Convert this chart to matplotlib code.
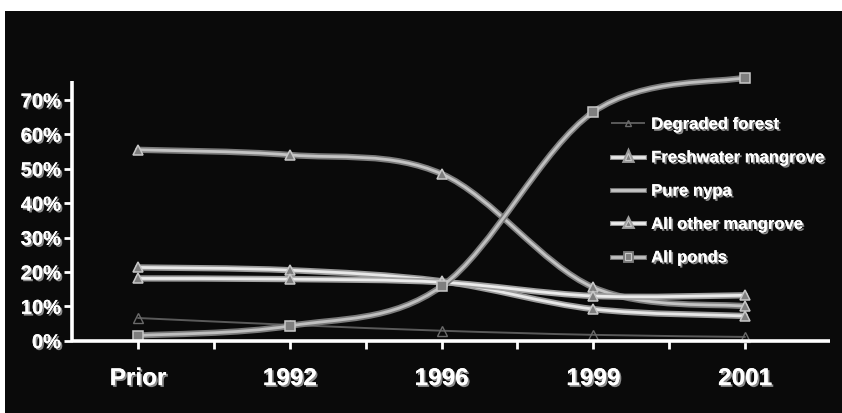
import matplotlib
matplotlib.use('Agg')
import matplotlib.pyplot as plt
import matplotlib.patheffects as pe
from matplotlib.path import Path
from matplotlib.patches import PathPatch, Rectangle
from matplotlib.lines import Line2D
from matplotlib.ticker import FixedLocator, PercentFormatter

plt.rcParams['font.family'] = ['Liberation Sans', 'DejaVu Sans']
plt.rcParams['font.weight'] = 'bold'

# Land cover share (% of area) per period
periods = ['Prior', '1992', '1996', '1999', '2001']
degraded_forest = [6.6, 4.6, 2.9, 1.7, 1.1]
freshwater_mangrove = [21.3, 20.5, 17.3, 9.2, 7.2]
pure_nypa = [55.5, 54.0, 48.5, 15.5, 10.0]
all_other_mangrove = [18.1, 17.9, 17.0, 13.0, 13.2]
all_ponds = [1.5, 4.3, 15.8, 66.5, 76.5]


def smooth_path(xs, ys):
    # Catmull-Rom style cubic Bezier through every point (like a "smoothed line")
    pts = list(zip(xs, ys))
    verts = [pts[0]]
    codes = [Path.MOVETO]
    n = len(pts)
    for i in range(n - 1):
        p0 = pts[max(i - 1, 0)]
        p1 = pts[i]
        p2 = pts[i + 1]
        p3 = pts[min(i + 2, n - 1)]
        c1 = (p1[0] + (p2[0] - p0[0]) / 6, p1[1] + (p2[1] - p0[1]) / 6)
        c2 = (p2[0] - (p3[0] - p1[0]) / 6, p2[1] - (p3[1] - p1[1]) / 6)
        verts += [c1, c2, p2]
        codes += [Path.CURVE4] * 3
    return Path(verts, codes)


shadow = [pe.withSimplePatchShadow(offset=(1.3, -1.3), shadow_rgbFace='#8a8a8a', alpha=1.0), pe.Normal()]

fig = plt.figure(figsize=(8.42, 4.14), dpi=100, facecolor='white')
fig.patches.append(Rectangle((5 / 842, 0), 1, 1 - 12 / 414, transform=fig.transFigure,
                             facecolor='#0a0a0a', edgecolor='none', zorder=-10))

ax = fig.add_axes([72 / 842, (414 - 341.7) / 414, (830 - 72) / 842, (341.7 - 82) / 414])
ax.set_facecolor('none')
ax.set_xlim(-0.435, 4.56)
ax.set_ylim(0, 75.5)

x = list(range(len(periods)))

# series: name, values, core colour, edge colour, core width, edge width, marker
series = [
    ('Degraded forest', degraded_forest, '#5a5a5a', None, 1.4, None, '^'),
    ('Freshwater mangrove', freshwater_mangrove, '#e8e8e8', '#9a9a9a', 2.0, 4.5, '^'),
    ('Pure nypa', pure_nypa, '#c4c4c4', '#7c7c7c', 2.0, 4.5, '^'),
    ('All other mangrove', all_other_mangrove, '#ececec', '#a0a0a0', 2.0, 4.5, '^'),
    ('All ponds', all_ponds, '#c0c0c0', '#7a7a7a', 2.0, 4.5, 's'),
]

handles = []
for name, vals, core, edge, lw, elw, mk in series:
    effects = [pe.Stroke(linewidth=elw, foreground=edge), pe.Normal()] if edge else None
    patch = PathPatch(smooth_path(x, vals), fill=False, edgecolor=core, linewidth=lw,
                      capstyle='round', joinstyle='round', clip_on=False, path_effects=effects)
    ax.add_patch(patch)
    if name == 'Degraded forest':
        ax.plot(x, vals, linestyle='none', marker=mk, markersize=6.5, markerfacecolor='none',
                markeredgecolor='#6a6a6a', markeredgewidth=1.0, clip_on=False)
        h = Line2D([], [], color=core, linewidth=lw, marker=mk, markersize=5,
                   markerfacecolor='none', markeredgecolor='#6a6a6a')
    else:
        ax.plot(x, vals, linestyle='none', marker=mk, markersize=6.5, markerfacecolor='#7e7e7e',
                markeredgecolor='#c8c8c8', markeredgewidth=1.1, clip_on=False)
        h = Line2D([], [], color=core, linewidth=lw,
                   marker=None if name == 'Pure nypa' else mk, markersize=4.5,
                   markerfacecolor='#7e7e7e', markeredgecolor='#c8c8c8', markeredgewidth=0.8,
                   path_effects=[pe.Stroke(linewidth=3.5, foreground=edge), pe.Normal()])
    handles.append(h)

# axes styling
for side in ['top', 'right']:
    ax.spines[side].set_visible(False)
for side in ['left', 'bottom']:
    ax.spines[side].set_color('white')
    ax.spines[side].set_linewidth(2.6)
    ax.spines[side].set_capstyle('butt')

ax.set_yticks(range(0, 71, 10))
ax.yaxis.set_major_formatter(PercentFormatter(decimals=0))
ax.set_xticks(x)
ax.set_xticklabels(periods)
ax.xaxis.set_minor_locator(FixedLocator([0.5, 1.5, 2.5, 3.5]))

ax.tick_params(axis='y', colors='white', length=6, width=2, pad=2, labelsize=14.5)
ax.tick_params(axis='x', which='both', colors='white', length=6, width=2, direction='out')
ax.tick_params(axis='x', which='major', pad=13, labelsize=17.5)

for lab in ax.get_yticklabels() + ax.get_xticklabels():
    lab.set_fontweight('bold')
    lab.set_path_effects(shadow)

leg = ax.legend(handles, [s[0] for s in series], loc='upper left',
                bbox_to_anchor=(612 / 842, 1 - 118 / 414), bbox_transform=fig.transFigure,
                frameon=False, fontsize=12, labelspacing=1.1, handlelength=1.9,
                handletextpad=0.45, borderpad=0, borderaxespad=0)
for t in leg.get_texts():
    t.set_color('white')
    t.set_fontweight('bold')
    t.set_path_effects(shadow)

fig.savefig('out.png', dpi=100, facecolor=fig.get_facecolor())
